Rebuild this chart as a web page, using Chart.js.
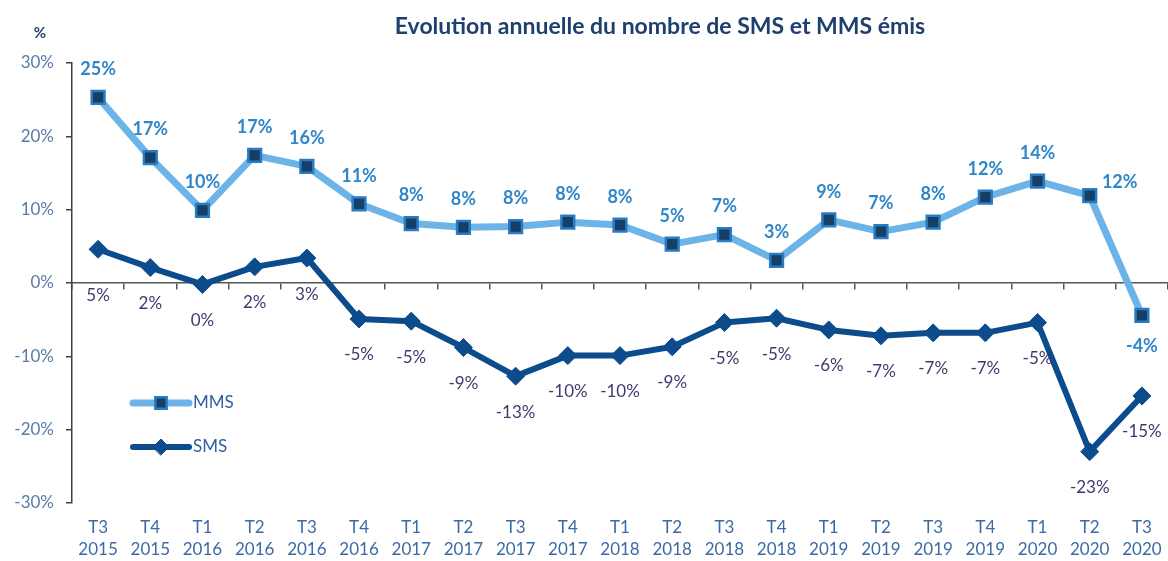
<!DOCTYPE html>
<html lang="fr">
<head>
<meta charset="utf-8">
<title>Evolution annuelle du nombre de SMS et MMS émis</title>
<script src="https://cdn.jsdelivr.net/npm/chart.js@4.4.1/dist/chart.umd.min.js"></script>
<style>
  html, body { margin: 0; padding: 0; background: #fff; }
  #wrap { position: relative; width: 1168px; height: 561px; }
</style>
</head>
<body>
<div id="wrap"><canvas id="smsChart"></canvas></div>
<script>
// trimestres (deux lignes : trimestre / année)
const trimestres = [
  ['T3', '2015'], ['T4', '2015'], ['T1', '2016'], ['T2', '2016'], ['T3', '2016'], ['T4', '2016'],
  ['T1', '2017'], ['T2', '2017'], ['T3', '2017'], ['T4', '2017'], ['T1', '2018'], ['T2', '2018'],
  ['T3', '2018'], ['T4', '2018'], ['T1', '2019'], ['T2', '2019'], ['T3', '2019'], ['T4', '2019'],
  ['T1', '2020'], ['T2', '2020'], ['T3', '2020']
];
// évolution annuelle en %
const mms = [25.3, 17.1, 9.9, 17.4, 15.9, 10.8, 8.1, 7.6, 7.7, 8.3, 7.9, 5.3, 6.6, 3.1, 8.6, 7.0, 8.3, 11.7, 13.9, 11.9, -4.4];
const sms = [4.6, 2.1, -0.2, 2.2, 3.4, -4.9, -5.2, -8.8, -12.7, -9.9, -9.9, -8.7, -5.4, -4.8, -6.4, -7.2, -6.8, -6.8, -5.4, -23.0, -15.4];
const yTicks = [-30, -20, -10, 0, 10, 20, 30];

const TITRE = 'Evolution annuelle du nombre de SMS et MMS émis';
const FONT = 'Lato, "Open Sans", sans-serif';
const MMS_LINE = '#6cb4e7';
const SMS_LINE = '#0d4c8c';

// position des étiquettes de valeur : décalage par défaut + exceptions
const labelStyle = [
  { color: '#2f86c8', font: 'bold 18px ', dy: -28, shift: { 19: [30, -14], 20: [0, 31] } },
  { color: '#3d3b6e', font: '17px ', dy: 36, shift: { 0: [0, 46] } }
];

const valueLabels = {
  id: 'valueLabels',
  afterDatasetsDraw(chart) {
    const ctx = chart.ctx;
    ctx.save();
    ctx.textAlign = 'center';
    ctx.textBaseline = 'middle';
    chart.data.datasets.forEach((ds, di) => {
      const st = labelStyle[di];
      ctx.fillStyle = st.color;
      ctx.font = st.font + FONT;
      chart.getDatasetMeta(di).data.forEach((pt, i) => {
        const off = st.shift[i] || [0, st.dy];
        ctx.fillText(Math.round(ds.data[i]) + '%', pt.x + off[0], pt.y + off[1]);
      });
    });
    ctx.restore();
  }
};

// titre, unité "%" et légende placée dans la zone du graphique
const extras = {
  id: 'extras',
  afterDraw(chart) {
    const ctx = chart.ctx;
    const area = chart.chartArea;
    ctx.save();
    ctx.fillStyle = '#1f3f6e';
    ctx.textAlign = 'center';
    ctx.textBaseline = 'middle';
    ctx.font = 'bold 23px ' + FONT;
    ctx.fillText(TITRE, 660, 27);
    ctx.font = 'bold 15px ' + FONT;
    ctx.fillText('%', 40, 33);

    const x1 = area.left + 61, x2 = area.left + 117;
    chart.data.datasets.forEach((ds, di) => {
      const y = area.top + 340 + di * 44;
      ctx.beginPath();
      ctx.lineCap = 'round';
      ctx.lineWidth = ds.borderWidth;
      ctx.strokeStyle = ds.borderColor;
      ctx.moveTo(x1, y);
      ctx.lineTo(x2, y);
      ctx.stroke();
      ctx.fillStyle = ds.pointBackgroundColor;
      ctx.strokeStyle = ds.pointBorderColor;
      ctx.lineWidth = ds.pointBorderWidth;
      Chart.helpers.drawPoint(ctx, {
        pointStyle: ds.pointStyle, radius: ds.pointRadius - 1,
        borderWidth: ds.pointBorderWidth, rotation: 0
      }, (x1 + x2) / 2, y);
      ctx.fillStyle = '#2e5f9e';
      ctx.font = '17px ' + FONT;
      ctx.textAlign = 'left';
      ctx.fillText(ds.label, x2 + 4, y);
    });
    ctx.restore();
  }
};

const ctx = document.getElementById('smsChart').getContext('2d');
const smsChart = new Chart(ctx, {
  type: 'line',
  data: {
    labels: trimestres,
    datasets: [{
      label: 'MMS',
      data: mms,
      borderColor: MMS_LINE,
      borderWidth: 7,
      borderJoinStyle: 'round',
      pointStyle: 'rect',
      pointRadius: 9,
      pointBackgroundColor: '#173e66',
      pointBorderColor: '#2a7cc2',
      pointBorderWidth: 2.5,
      tension: 0,
      clip: 10
    }, {
      label: 'SMS',
      data: sms,
      borderColor: SMS_LINE,
      borderWidth: 6,
      borderJoinStyle: 'round',
      pointStyle: 'rectRot',
      pointRadius: 9,
      pointBackgroundColor: SMS_LINE,
      pointBorderColor: SMS_LINE,
      pointBorderWidth: 1,
      tension: 0,
      clip: 10
    }]
  },
  options: {
    responsive: true,
    maintainAspectRatio: false,
    animation: false,
    events: [],
    layout: { autoPadding: false, padding: { left: 0, right: 0, top: 63, bottom: 1 } },
    plugins: {
      legend: { display: false },
      tooltip: { enabled: false },
      title: { display: false }
    },
    scales: {
      x: {
        offset: true,
        afterFit: s => { s.height = 57; s.paddingLeft = 0; s.paddingRight = 0; },
        grid: { display: false },
        border: { display: false },
        ticks: {
          color: '#3b6aa6',
          font: { family: FONT, size: 17, lineHeight: 1.3 },
          padding: 5,
          maxRotation: 0,
          autoSkip: false
        }
      },
      // axe horizontal tracé sur la ligne du zéro
      x0: {
        type: 'category',
        offset: true,
        position: { y: 0 },
        grid: { display: true, offset: true, drawOnChartArea: false, drawTicks: true, tickLength: 6, color: '#555', lineWidth: 1.5 },
        border: { display: true, color: '#555', width: 1.5 },
        ticks: { display: false }
      },
      y: {
        min: -30,
        max: 30,
        afterBuildTicks: s => { s.ticks = yTicks.map(v => ({ value: v })); },
        afterFit: s => { s.width = 72; s.paddingTop = 0; s.paddingBottom = 0; },
        grid: { display: true, drawOnChartArea: false, drawTicks: true, tickLength: 6, color: '#404040', lineWidth: 1.5 },
        border: { display: true, color: '#404040', width: 1.5 },
        ticks: {
          color: '#5a7aa8',
          font: { family: FONT, size: 17 },
          padding: 12,
          callback: v => v + '%'
        }
      }
    }
  },
  plugins: [valueLabels, extras]
});
</script>
</body>
</html>
